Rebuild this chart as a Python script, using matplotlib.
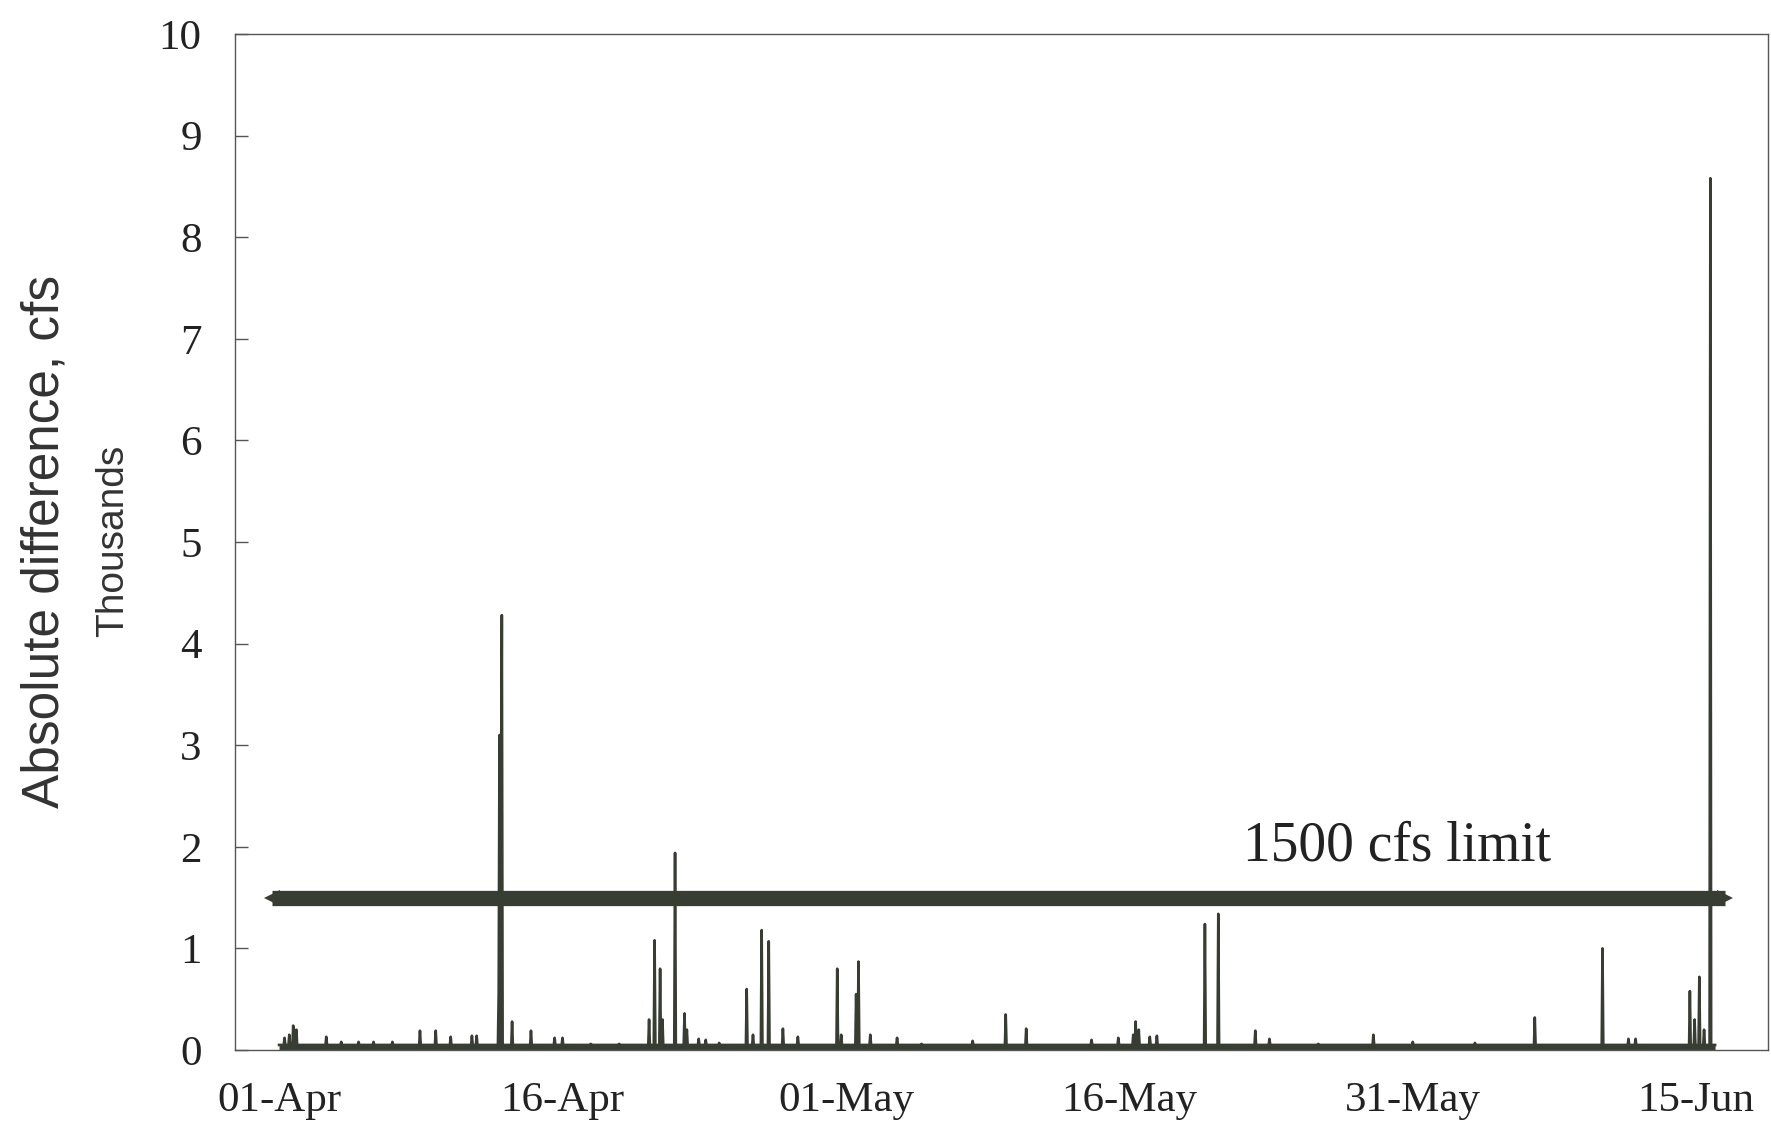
"""Absolute difference between flows, Apr-Jun, with the 1500 cfs limit"""

import numpy as np
import matplotlib.pyplot as plt

# x axis: days after 01-Apr
tick_days = [0, 15, 30, 45, 60, 75]
tick_labels = ['01-Apr', '16-Apr', '01-May', '16-May', '31-May', '15-Jun']

# background level of the record, cfs
BASE = 50.0
END_DAY = 76.0

# spikes: day after 01-Apr, value in cfs
spike_day = [0.3, 0.55, 0.75, 0.9, 2.5, 3.3, 4.2, 5.0, 6.0, 7.45, 8.3, 9.1,
             10.2, 10.45, 11.62, 11.68, 11.74, 11.80, 12.35, 13.35, 14.6, 15.0,
             16.5, 18.0, 19.6, 19.87, 20.15, 20.3, 20.95, 21.45, 21.6, 22.2,
             22.6, 23.3, 24.75, 25.1, 25.55, 25.9, 26.65, 27.45, 29.55, 29.75,
             30.55, 30.65, 31.3, 32.7, 34.0, 36.7, 38.45, 39.55, 43.0, 44.4,
             45.2, 45.35, 45.5, 46.1, 46.45, 49.0, 49.7, 51.65, 52.4, 55.0,
             57.9, 60.0, 63.3, 66.45, 70.05, 71.4, 71.8, 74.65, 74.9, 75.15,
             75.4, 75.75]
spike_cfs = [120, 150, 240, 200, 130, 80, 80, 80, 80, 190, 190, 130,
             140, 140, 560, 3100, 1880, 4280, 280, 190, 120, 120,
             60, 60, 300, 1080, 800, 300, 1940, 360, 200, 110,
             100, 70, 600, 150, 1180, 1070, 210, 130, 800, 150,
             550, 870, 150, 120, 60, 90, 350, 210, 100, 120,
             150, 280, 200, 130, 140, 1240, 1340, 190, 110, 60,
             150, 80, 70, 320, 1000, 110, 110, 580, 300, 720,
             200, 8580]

LIMIT = 1500.0
limit_start, limit_end = -0.35, 76.5

INK = '#383d34'

# hourly record
hours = np.arange(int(END_DAY * 24) + 1)
t = hours / 24.0
v = np.full(len(t), BASE)
for d, c in zip(spike_day, spike_cfs):
    i = int(round(d * 24))
    v[i] = max(v[i], c)
v = v / 1000.0  # thousands

fig = plt.figure(figsize=(17.71, 11.31), dpi=100)
ax = fig.add_axes([0.1327, 0.0716, 0.8656, 0.8984])

ax.fill_between(t, 0, v, color=INK, lw=0)
ax.plot(t, v, color=INK, lw=1.9)

# limit bar with pointed ends
ax.plot([limit_start, limit_end], [LIMIT / 1000] * 2, color=INK, lw=11,
        solid_capstyle='butt')
ax.plot([limit_start], [LIMIT / 1000], marker='<', ms=11, color=INK, mew=0)
ax.plot([limit_end], [LIMIT / 1000], marker='>', ms=11, color=INK, mew=0)
ax.text(51.0, 2.0, '1500 cfs limit', fontsize=40, family='Liberation Serif',
        color='#222222', ha='left', va='center')

ax.set_xlim(-2.33, 78.8)
ax.set_ylim(0, 10)
ax.set_yticks(range(0, 11))
ax.set_xticks(tick_days)
ax.set_xticklabels(tick_labels)

for lab in ax.get_xticklabels() + ax.get_yticklabels():
    lab.set_family('Liberation Serif')
    lab.set_fontsize(31)
    lab.set_color('#222222')
ax.tick_params(axis='y', direction='in', length=9, width=1, pad=24,
               color='#555555')
ax.tick_params(axis='x', length=0, pad=23)
for s in ax.spines.values():
    s.set_linewidth(1.0)
    s.set_color('#555555')

fig.text(45 / 1771, 1 - 541 / 1131, 'Absolute difference, cfs', rotation=90,
         family='Liberation Sans', fontsize=37,
         color='#333333', ha='center', va='center')
fig.text(113 / 1771, 1 - 541 / 1131, 'Thousands', rotation=90,
         family='Liberation Sans', fontsize=28,
         color='#333333', ha='center', va='center')

plt.savefig('out.png', dpi=100)
